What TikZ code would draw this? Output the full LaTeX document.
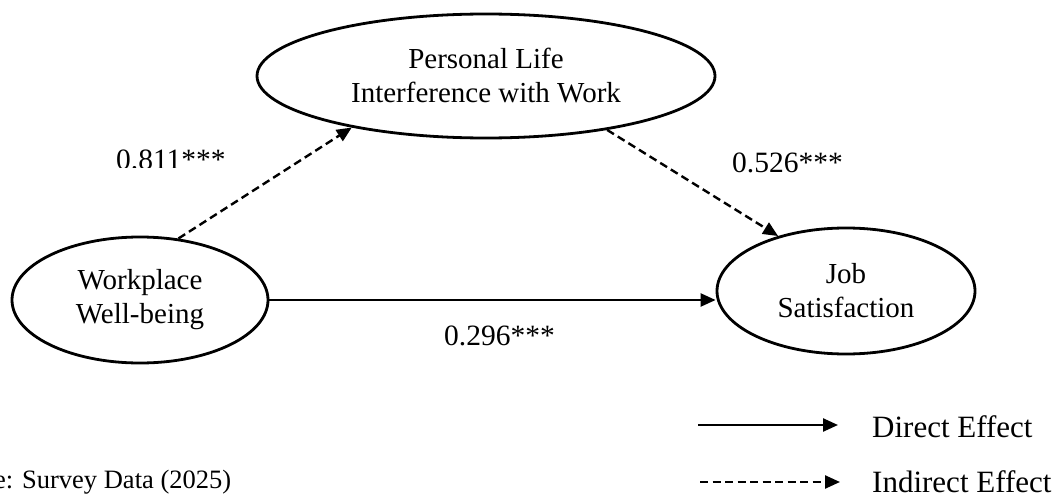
\documentclass[tikz,border=0pt]{standalone}
\usepackage{fontspec}
\setmainfont{Liberation Serif}
\usetikzlibrary{shapes.geometric,arrows.meta}
\begin{document}
\begin{tikzpicture}[x=1pt,y=-1pt,
  latent/.style={draw,ellipse,line width=2.8pt,inner sep=0pt,align=center,
                 font=\fontsize{29}{34}\selectfont},
  lbl/.style={font=\fontsize{29.5}{34}\selectfont,inner sep=0pt,anchor=base west},
  leg/.style={font=\fontsize{31}{36}\selectfont,inner sep=0pt,anchor=base west},
  arr/.style={line width=2.4pt,-{Triangle[length=15pt,width=13pt]}},
  dsh/.style={arr,dash pattern=on 8pt off 4.5pt}]
\useasboundingbox (0,0) rectangle (1063,495);
% latent variables
\node[latent,minimum width=458pt,minimum height=124pt] (pl) at (486,76) {Personal Life\\Interference with Work};
\node[latent,minimum width=256pt,minimum height=126pt] (wb) at (140,300) {Workplace\\Well-being};
\node[latent,minimum width=258pt,minimum height=126pt] (js) at (846,291) {Job\\Satisfaction};
% paths
\draw[dsh] (wb.58) -- (pl.201);
\draw[dsh] (pl.-24) -- (js.141);
\draw[arr] (wb.east) -- (js.west |- wb.east);
% coefficients
\begin{scope}
  \clip (100,140) rectangle (260,167.5);
  \node[lbl] (c1) at (116,169) {0.811***};
\end{scope}
\node[lbl] (c2) at (732,172) {0.526***};
\node[lbl] (c3) at (444,345) {0.296***};
% source
\node[font=\fontsize{26.5}{30}\selectfont,inner sep=0pt,anchor=base west] (src) at (-6,488) {e: Survey Data (2025)};
% legend
\coordinate (l1s) at (698,425);
\coordinate (l1e) at (838,425);
\coordinate (l2s) at (700,482);
\coordinate (l2e) at (840,482);
\draw[arr] (l1s) -- (l1e);
\draw[dsh] (l2s) -- (l2e);
\node[leg] (d1) at (872,437) {Direct Effect};
\node[leg] (d2) at (872,492) {Indirect Effect};
\end{tikzpicture}
\end{document}
